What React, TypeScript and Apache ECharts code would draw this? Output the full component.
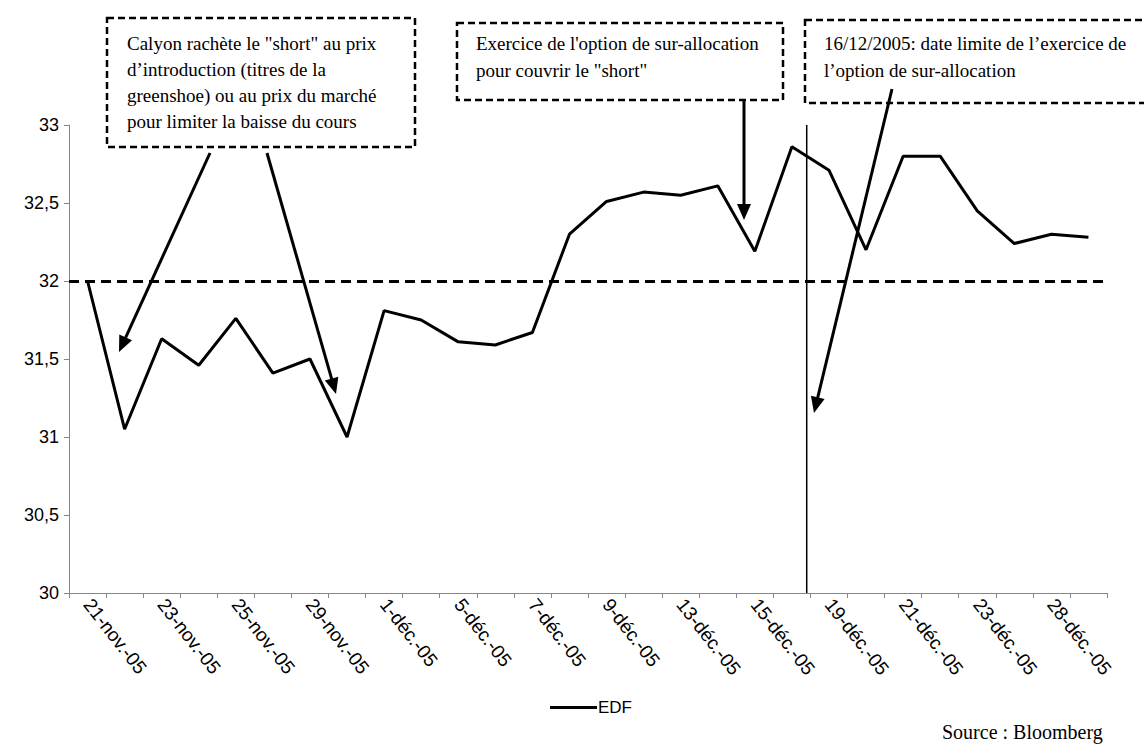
import React, { useEffect, useRef } from "react";
import * as echarts from "echarts";

const categories = [
  "21-nov.-05", "22-nov.-05", "23-nov.-05", "24-nov.-05", "25-nov.-05", "28-nov.-05",
  "29-nov.-05", "30-nov.-05", "1-déc.-05", "2-déc.-05", "5-déc.-05", "6-déc.-05",
  "7-déc.-05", "8-déc.-05", "9-déc.-05", "12-déc.-05", "13-déc.-05", "14-déc.-05",
  "15-déc.-05", "16-déc.-05", "19-déc.-05", "20-déc.-05", "21-déc.-05", "22-déc.-05",
  "23-déc.-05", "27-déc.-05", "28-déc.-05", "29-déc.-05",
];

const edf = [
  32.0, 31.05, 31.63, 31.46, 31.76, 31.41, 31.5, 31.0, 31.81, 31.75, 31.61, 31.59,
  31.67, 32.3, 32.51, 32.57, 32.55, 32.61, 32.19, 32.86, 32.71, 32.2, 32.8, 32.8,
  32.45, 32.24, 32.3, 32.28,
];

const yTicks = [30, 30.5, 31, 31.5, 32, 32.5, 33];
const yTickLabels = ["30", "30,5", "31", "31,5", "32", "32,5", "33"];
const referencePrice = 32;
const deadlineBoundary = 19.9; // between 16-déc and 19-déc

const box1Lines = [
  "Calyon rachète le \"short\" au prix",
  "d’introduction (titres de la",
  "greenshoe) ou au prix du marché",
  "pour limiter la baisse du cours",
];
const box2Lines = ["Exercice de l'option de sur-allocation", "pour couvrir le \"short\""];
const box3Lines = ["16/12/2005: date limite de l’exercice de", "l’option de sur-allocation"];

const SERIF = '"Liberation Serif", "Times New Roman", serif';
const SANS = '"Liberation Sans", Arial, sans-serif';

function arrow(x1: number, y1: number, x2: number, y2: number) {
  const dx = x2 - x1;
  const dy = y2 - y1;
  const len = Math.sqrt(dx * dx + dy * dy);
  const ux = dx / len;
  const uy = dy / len;
  const hl = 16;
  const hw = 7;
  const bx = x2 - ux * hl;
  const by = y2 - uy * hl;
  return [
    {
      type: "line",
      shape: { x1, y1, x2: bx + ux * 2, y2: by + uy * 2 },
      style: { stroke: "#000", lineWidth: 3 },
      z: 20,
    },
    {
      type: "polygon",
      shape: {
        points: [
          [x2, y2],
          [bx - uy * hw, by + ux * hw],
          [bx + uy * hw, by - ux * hw],
        ],
      },
      style: { fill: "#000" },
      z: 20,
    },
  ];
}

function box(x: number, y: number, w: number, h: number, lines: string[], tx: number, ty: number, lh: number) {
  const els: any[] = [
    {
      type: "rect",
      shape: { x, y, width: w, height: h },
      style: { fill: "#fff", stroke: "#000", lineWidth: 2.5, lineDash: [7, 4] },
      z: 15,
    },
  ];
  lines.forEach((t, i) => {
    els.push({
      type: "text",
      x: tx,
      y: ty + i * lh,
      style: {
        text: t,
        font: `19px ${SERIF}`,
        fill: "#000",
        align: "left",
        verticalAlign: "middle",
      },
      z: 16,
    });
  });
  return els;
}

export default function App() {
  const ref = useRef<HTMLDivElement>(null);

  useEffect(() => {
    document.body.style.margin = "0";
    if (!ref.current) return;
    const chart = echarts.init(ref.current, null, { renderer: "svg" });

    const graphics: any[] = [
      ...box(107, 18, 308, 129, box1Lines, 127, 43, 26),
      ...box(457, 23, 326, 77, box2Lines, 476, 43, 27),
      ...box(805, 20, 360, 83, box3Lines, 824, 43, 27),
      ...arrow(210, 153, 119, 352),
      ...arrow(267, 153, 336, 394),
      ...arrow(744, 100, 744, 220),
      ...arrow(892, 89, 814, 413),
      {
        type: "text",
        x: 942,
        y: 732,
        style: {
          text: "Source : Bloomberg",
          font: `20px ${SERIF}`,
          fill: "#000",
          align: "left",
          verticalAlign: "middle",
        },
        z: 16,
      },
    ];

    chart.setOption({
      animation: false,
      backgroundColor: "#fff",
      grid: { left: 69, right: 37, top: 125, bottom: 153, containLabel: false },
      legend: {
        data: [{ name: "EDF", icon: "rect" }],
        left: 545,
        top: 694,
        itemWidth: 47,
        itemHeight: 3,
        itemGap: 4,
        textStyle: { fontFamily: SANS, fontSize: 17, color: "#000", padding: [0, 0, 0, -4] },
      },
      xAxis: [
        {
          type: "category",
          data: categories,
          boundaryGap: true,
          axisLine: { lineStyle: { color: "#868686", width: 1 } },
          axisTick: { show: true, interval: 0, length: 5, lineStyle: { color: "#868686" } },
          axisLabel: {
            interval: 1,
            rotate: -52,
            margin: 8,
            fontFamily: SANS,
            fontSize: 19,
            color: "#000",
          },
          splitLine: { show: false },
        },
        {
          type: "value",
          min: 0,
          max: categories.length,
          show: false,
        },
      ],
      yAxis: {
        type: "value",
        min: yTicks[0],
        max: yTicks[yTicks.length - 1],
        interval: 0.5,
        axisLine: { show: true, lineStyle: { color: "#868686", width: 1 } },
        axisTick: { show: true, length: 5, lineStyle: { color: "#868686" } },
        axisLabel: {
          margin: 10,
          fontFamily: SANS,
          fontSize: 18,
          color: "#000",
          formatter: (v: number) => {
            const i = yTicks.findIndex((t) => Math.abs(t - v) < 1e-9);
            return i >= 0 ? yTickLabels[i] : String(v);
          },
        },
        splitLine: { show: false },
      },
      series: [
        {
          name: "EDF",
          type: "line",
          data: edf,
          symbol: "none",
          lineStyle: { color: "#000", width: 3 },
          itemStyle: { color: "#000" },
          z: 10,
          markLine: {
            silent: true,
            symbol: "none",
            label: { show: false },
            lineStyle: { color: "#000", width: 3, type: [10, 6] },
            data: [{ yAxis: referencePrice }],
          },
        },
        {
          name: "deadline",
          type: "line",
          xAxisIndex: 1,
          data: [
            [deadlineBoundary, yTicks[0]],
            [deadlineBoundary, yTicks[yTicks.length - 1]],
          ],
          symbol: "none",
          lineStyle: { color: "#000", width: 1.5 },
          z: 5,
        },
      ],
      graphic: graphics,
    });

    return () => chart.dispose();
  }, []);

  return <div ref={ref} style={{ width: 1144, height: 746 }} />;
}
